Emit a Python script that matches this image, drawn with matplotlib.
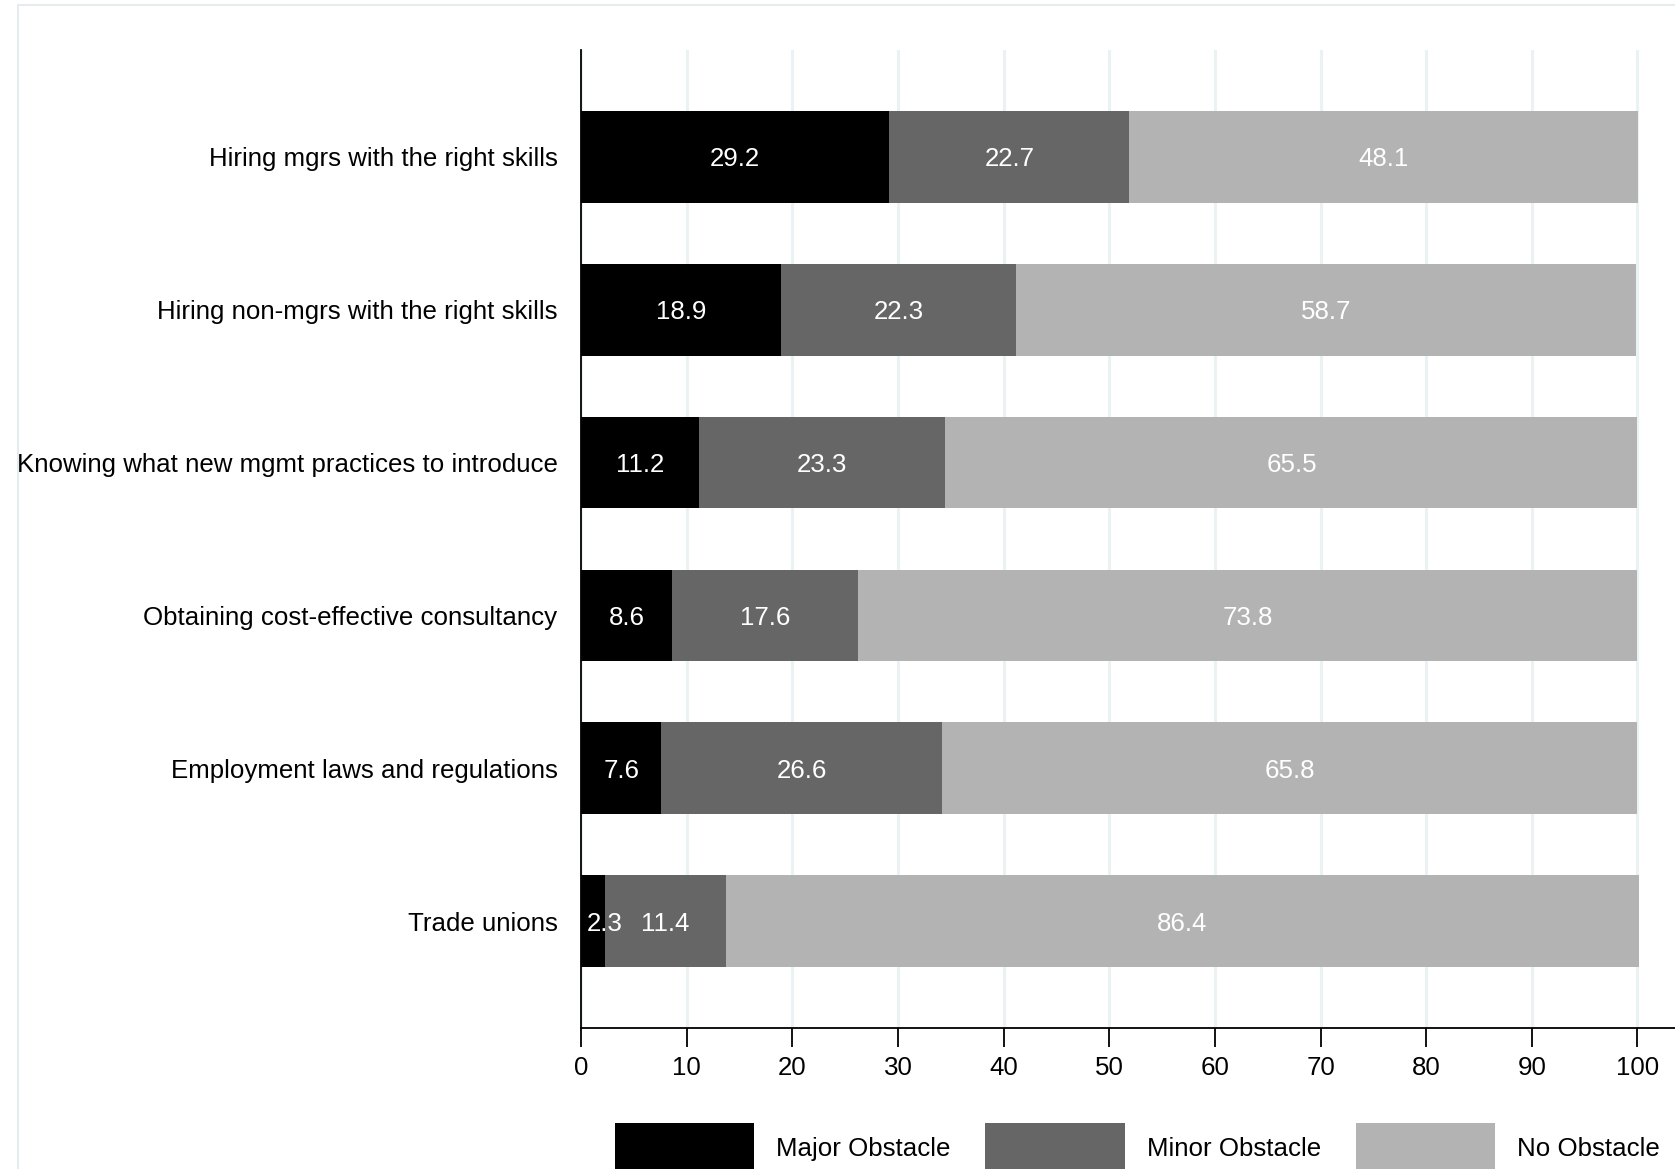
import numpy as np
import matplotlib.pyplot as plt
from matplotlib.patches import Rectangle

plt.rcParams['font.family'] = ['Liberation Sans', 'DejaVu Sans']

categories = ['Hiring mgrs with the right skills',
              'Hiring non-mgrs with the right skills',
              'Knowing what new mgmt practices to introduce',
              'Obtaining cost-effective consultancy',
              'Employment laws and regulations',
              'Trade unions']
major = [29.2, 18.9, 11.2, 8.6, 7.6, 2.3]
minor = [22.7, 22.3, 23.3, 17.6, 26.6, 11.4]
none_ = [48.1, 58.7, 65.5, 73.8, 65.8, 86.4]
series_names = ['Major Obstacle', 'Minor Obstacle', 'No Obstacle']
colors = ['#000000', '#666666', '#b3b3b3']

fs = 18.6

fig = plt.figure(figsize=(16.75, 11.69), dpi=100)
ax = fig.add_axes([581/1675, 1 - 1028/1169, 1 - 581/1675, (1028 - 50)/1169])

# outer frame of the graph region
fig.patches.append(Rectangle((18/1675, -0.1), 1.2, 1 - 5/1169 + 0.1, transform=fig.transFigure,
                             fill=False, edgecolor='#e6ecee', lw=1.5, zorder=0))

y = np.arange(len(categories))
left = np.zeros(len(categories))
for vals, c, name in zip([major, minor, none_], colors, series_names):
    vals = np.array(vals)
    ax.barh(y, vals, left=left, height=0.6, color=c, label=name, zorder=3)
    for yi, l, v in zip(y, left, vals):
        if v < 4:
            ax.annotate(f'{v:.1f}', xy=(l, yi), xytext=(4, 0), textcoords='offset points',
                        ha='left', va='center_baseline', color='white', fontsize=fs, zorder=4)
        else:
            ax.text(l + v / 2, yi, f'{v:.1f}', ha='center', va='center_baseline',
                    color='white', fontsize=fs, zorder=4)
    left = left + vals

ax.set_xlim(0, (1675 - 581) / ((1637.5 - 581) / 100))
ax.set_ylim(5.7, -0.7)
ax.set_xticks(np.arange(0, 101, 10))
ax.set_yticks(y)
ax.set_yticklabels(categories, fontsize=fs)
ax.tick_params(axis='y', length=0, pad=17)
ax.tick_params(axis='x', length=13.5, width=1.3, labelsize=fs, pad=7)
ax.grid(axis='x', color='#eaf2f3', lw=2.2, zorder=0)
for s in ['top', 'right']:
    ax.spines[s].set_visible(False)
ax.spines['left'].set_linewidth(1.3)
ax.spines['bottom'].set_linewidth(1.3)

fig.legend(loc='center', bbox_to_anchor=(0.679, 0.018), ncol=3, frameon=False,
           fontsize=fs, handlelength=5.4, handleheight=2.6, handletextpad=0.85,
           columnspacing=1.35)

plt.savefig('out.png', dpi=100)
